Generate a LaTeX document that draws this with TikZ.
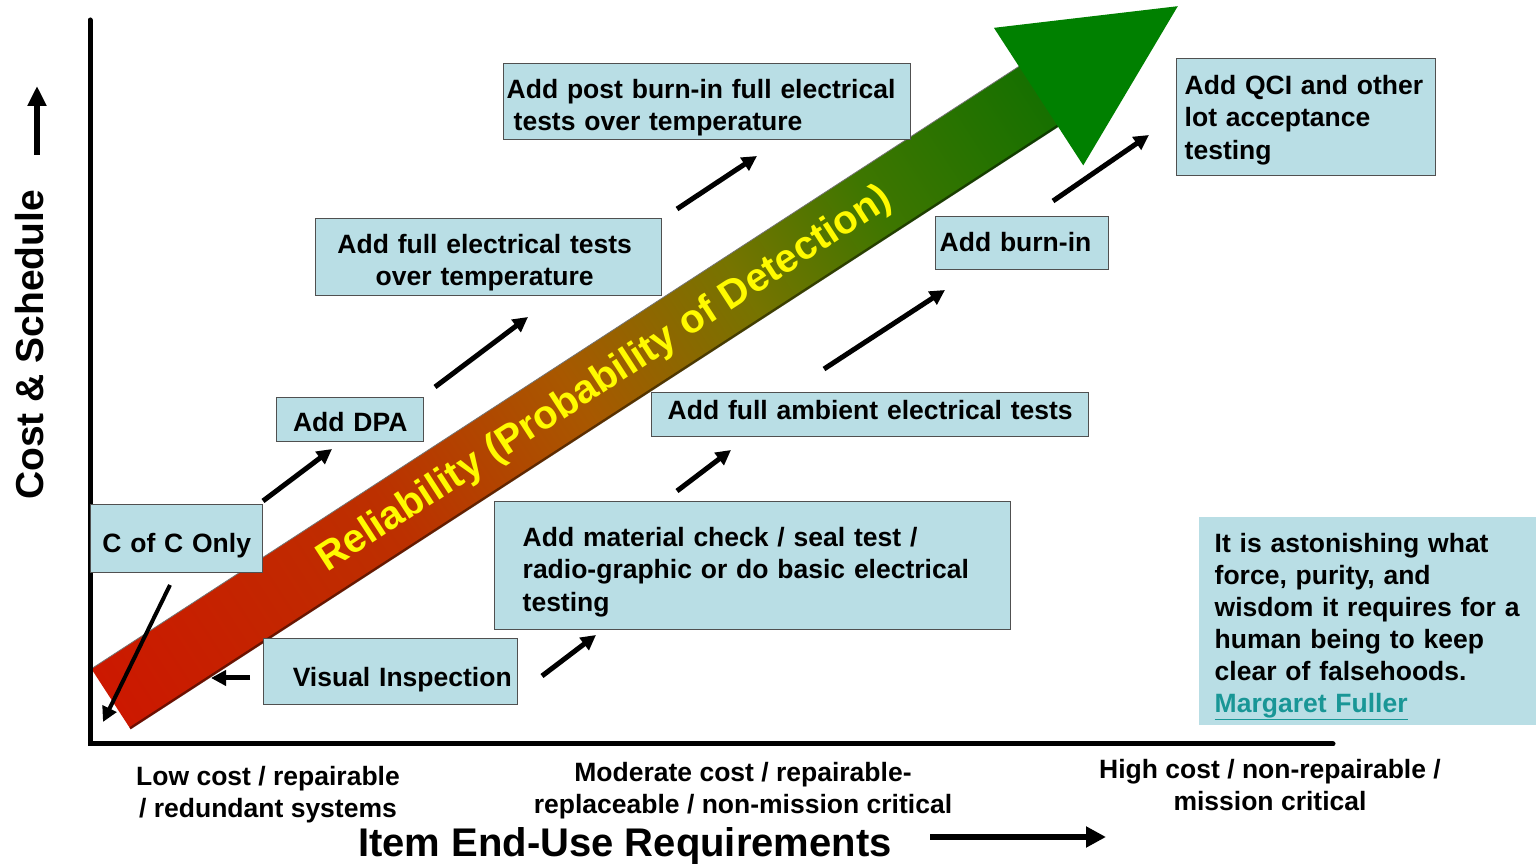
\documentclass[tikz,border=0pt]{standalone}
\usepackage{fontspec}
\setmainfont{Liberation Sans}
\usepackage{xcolor}
\usepackage{tikz}
\usetikzlibrary{arrows.meta}

\definecolor{boxfill}{RGB}{185,222,229}
\definecolor{boxline}{RGB}{80,80,80}
\definecolor{linkteal}{RGB}{25,150,150}
\definecolor{relyellow}{RGB}{255,250,0}
\definecolor{headgreen}{RGB}{0,128,0}
\definecolor{shaftred}{RGB}{204,24,0}
\definecolor{shaftrust}{RGB}{188,48,0}
\definecolor{shaftbrown}{RGB}{168,88,0}
\definecolor{shaftolive}{RGB}{118,116,0}
\definecolor{shaftmoss}{RGB}{62,118,0}
\definecolor{shaftgreen}{RGB}{22,112,0}

% red -> green along the reliability shaft (25bp..75bp is the path)
\pgfdeclarehorizontalshading{reliability}{100bp}{%
  color(0bp)=(shaftred); color(25bp)=(shaftred); color(40bp)=(shaftrust);
  color(50bp)=(shaftbrown); color(59bp)=(shaftolive); color(66bp)=(shaftmoss);
  color(75bp)=(shaftgreen); color(100bp)=(shaftgreen)}

\newcommand\boxfont{\fontsize{26.5}{32.5}\selectfont\bfseries}
% fixed room above the first and below the last line of a box text
\newcommand\lift[3]{\rule{0pt}{#1pt}#3\rule[-#2pt]{0pt}{#2pt}}

\begin{document}
\begin{tikzpicture}[x=1pt,y=1pt,
  box/.style={draw=boxline,line width=1.4pt,fill=boxfill,anchor=north west,
              inner ysep=0pt,font=\boxfont},
  pointer/.style={line width=5pt,-{Triangle[length=15pt,width=15pt]}},
  axisnote/.style={font=\boxfont,align=center,anchor=north,inner sep=0pt}]
  \path[use as bounding box,fill=white] (0,0) rectangle (1536,864);

  % --- Reliability arrow (drawn along its own axis) ---
  \begin{scope}[transform canvas={shift={(111,165)},rotate=33}]
    \shade[shading=reliability] (0,-36) rectangle (1110,36);
    \draw[black,opacity=0.45,line width=2.5pt] (0,-35) -- (1106,-35);
    \draw[black!55,line width=0.8pt] (0,36) -- (1106,36);
    \fill[headgreen] (1106,82) -- (1272,0) -- (1106,-82) -- cycle;
  \end{scope}
  \node[text=relyellow,font=\fontsize{40}{48}\selectfont\bfseries,rotate=33]
    (reliab) at (605,484) {Reliability (Probability of Detection)};

  % --- Axes ---
  \draw[line width=5pt,line cap=round] (90,844) -- (90,120) -- (1333,120);

  % --- Test steps ---
  \node[box,text width=401pt,inner xsep=3pt,minimum height=76pt,align=left]
    (posttemp) at (503,801) {\lift{32}{6.5}{Add post burn-in full electrical\\\hspace*{7pt}tests over temperature}};
  \node[box,text width=243pt,inner xsep=8pt,minimum height=117pt,align=left]
    (qci) at (1176,806) {\lift{25}{6}{Add QCI and other\\lot acceptance\\testing}};
  \node[box,text width=338pt,inner xsep=4pt,minimum height=77pt,align=center]
    (fulltemp) at (315,646) {\lift{30.5}{6}{\hspace*{-8pt}Add full electrical tests\\\hspace*{-8pt}over temperature}};
  \node[box,text width=165pt,inner xsep=4pt,minimum height=53pt,align=left]
    (burnin) at (935,648) {\lift{22}{6}{Add burn-in}};
  \node[box,text width=139pt,inner xsep=4pt,minimum height=44pt,align=center]
    (dpa) at (276,467) {\lift{29}{6}{Add DPA}};
  \node[box,text width=405pt,inner xsep=16pt,minimum height=44pt,align=left]
    (ambient) at (651,472) {\lift{20}{11}{Add full ambient electrical tests}};
  \node[box,text width=164pt,inner xsep=4pt,minimum height=68pt,align=center]
    (cofc) at (90,360) {\lift{33}{6}{C of C Only}};
  \node[box,text width=460pt,inner xsep=28pt,minimum height=128pt,align=left]
    (material) at (494,363) {\lift{32}{6}{Add material check / seal test /\\radio-graphic or do basic electrical\\testing}};
  \node[box,text width=242pt,inner xsep=6pt,minimum height=66pt,align=right]
    (visual) at (263,226) {\lift{35}{6}{Visual Inspection}};

  % --- Quote ---
  \node[box,draw=none,text width=322pt,inner xsep=16pt,minimum height=208pt,align=left,
        font=\fontsize{26.5}{32}\selectfont\bfseries]
    (quote) at (1198,348) {\lift{31}{6}{It is astonishing what\\force, purity, and\\wisdom it requires for a\\human being to keep\\clear of falsehoods.\\{\color{linkteal}\underline{Margaret Fuller}}}};

  % --- Step pointers ---
  \coordinate (cofcs) at (170,279);  \coordinate (cofce) at (103,142);
  \coordinate (viss)  at (250,186);  \coordinate (vise)  at (211,186);
  \coordinate (dpas)  at (263,363);  \coordinate (dpae)  at (332,415);
  \coordinate (fts)   at (435,477);  \coordinate (fte)   at (528,547);
  \coordinate (pts)   at (677,655);  \coordinate (pte)   at (757,708);
  \coordinate (mats)  at (542,188);  \coordinate (mate)  at (596,229);
  \coordinate (ambs)  at (677,373);  \coordinate (ambe)  at (731,414);
  \coordinate (bis)   at (824,495);  \coordinate (bie)   at (945,574);
  \coordinate (qcis)  at (1053,663); \coordinate (qcie)  at (1149,729);
  \draw[pointer,line width=4pt] (cofcs) -- (cofce);
  \draw[pointer] (viss) -- (vise);
  \draw[pointer] (dpas) -- (dpae);
  \draw[pointer] (fts) -- (fte);
  \draw[pointer] (pts) -- (pte);
  \draw[pointer] (mats) -- (mate);
  \draw[pointer] (ambs) -- (ambe);
  \draw[pointer] (bis) -- (bie);
  \draw[pointer] (qcis) -- (qcie);

  % --- Axis labels ---
  \node[font=\fontsize{39}{44}\selectfont\bfseries,rotate=90] (costlabel) at (30,519) {Cost \& Schedule};
  \coordinate (costs) at (37,709); \coordinate (coste) at (37,778);
  \draw[line width=6pt,-{Triangle[length=20pt,width=18pt]}] (costs) -- (coste);

  \node[axisnote] (lowcost)  at (268,98)  {Low cost / repairable\\/ redundant systems};
  \node[axisnote] (modcost)  at (743,102) {Moderate cost / repairable-\\replaceable / non-mission critical};
  \node[axisnote] (highcost) at (1270,105) {High cost / non-repairable /\\mission critical};

  \node[font=\fontsize{40}{46}\selectfont\bfseries,anchor=base] (enduse) at (625,7) {Item End-Use Requirements};
  \coordinate (uses) at (930,27); \coordinate (usee) at (1106,27);
  \draw[line width=6pt,-{Triangle[length=20pt,width=20pt]}] (uses) -- (usee);
\end{tikzpicture}
\end{document}
